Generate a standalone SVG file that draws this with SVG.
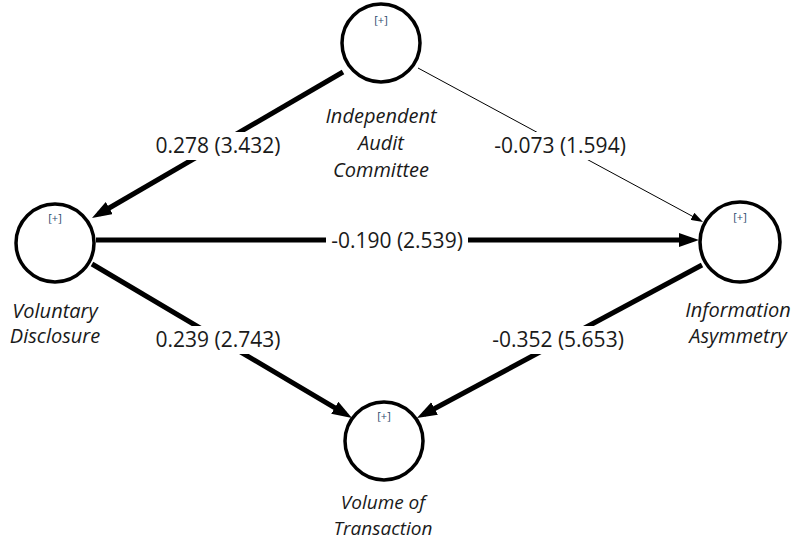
<svg xmlns="http://www.w3.org/2000/svg" width="794" height="541" viewBox="0 0 794 541">
<style>
.node{fill:#fff;stroke:#000;stroke-width:3.5}
.plus{font-family:"Open Sans","Noto Sans",sans-serif;font-size:11px;fill:#2e4a6e;text-anchor:middle}
.name{font-family:"Open Sans","Noto Sans",sans-serif;font-style:italic;font-size:20px;fill:#1a1a1a;text-anchor:middle}
.lbl{font-family:"Open Sans","Noto Sans",sans-serif;font-size:21px;fill:#1a1a1a;text-anchor:middle}
.thick{stroke:#000;stroke-width:5;fill:none}
.thin{stroke:#000;stroke-width:1;fill:none}
.bg{fill:#fff}
</style>
<defs>
<marker id="ah" markerUnits="userSpaceOnUse" markerWidth="20" markerHeight="16" refX="12" refY="7" orient="auto">
<path d="M0,0 L20,7 L0,14 z" fill="#000"/>
</marker>
<marker id="ahs" markerUnits="userSpaceOnUse" markerWidth="12" markerHeight="8" refX="8" refY="4" orient="auto">
<path d="M0,0 L12,4 L0,8 z" fill="#000"/>
</marker>
</defs>
<g id="connectors">
<line class="thick" x1="343" y1="72" x2="98.9" y2="214" marker-end="url(#ah)"/>
<line class="thin" x1="418" y1="68" x2="699.5" y2="220.1" marker-end="url(#ahs)"/>
<line class="thick" x1="96" y1="240" x2="691" y2="240" marker-end="url(#ah)"/>
<line class="thick" x1="92" y1="264" x2="345.1" y2="413.9" marker-end="url(#ah)"/>
<line class="thick" x1="702" y1="265" x2="424" y2="414.2" marker-end="url(#ah)"/>
<rect class="bg" x="150" y="132" width="136" height="28"/>
<text class="lbl" x="218" y="153">0.278 (3.432)</text>
<rect class="bg" x="487" y="132" width="146" height="28"/>
<text class="lbl" x="560" y="153">-0.073 (1.594)</text>
<rect class="bg" x="326" y="227" width="142" height="28"/>
<text class="lbl" x="397" y="248">-0.190 (2.539)</text>
<rect class="bg" x="150" y="326" width="136" height="28"/>
<text class="lbl" x="218" y="347">0.239 (2.743)</text>
<rect class="bg" x="485" y="326" width="146" height="28"/>
<text class="lbl" x="558" y="347">-0.352 (5.653)</text>
</g>
<g id="iac">
<circle class="node" cx="381" cy="43" r="39"/>
<text class="plus" x="381" y="24">[+]</text>
<text class="name" x="381" y="123">Independent</text>
<text class="name" x="381" y="150">Audit</text>
<text class="name" x="381" y="177">Committee</text>
</g>
<g id="vd">
<circle class="node" cx="55" cy="243" r="39"/>
<text class="plus" x="55" y="222">[+]</text>
<text class="name" x="55" y="318">Voluntary</text>
<text class="name" x="55" y="343">Disclosure</text>
</g>
<g id="ia">
<circle class="node" cx="740" cy="242" r="40"/>
<text class="plus" x="740" y="221">[+]</text>
<text class="name" x="738" y="317">Information</text>
<text class="name" x="738" y="343">Asymmetry</text>
</g>
<g id="vt">
<circle class="node" cx="384" cy="441" r="39"/>
<text class="plus" x="384" y="420">[+]</text>
<text class="name" x="383" y="509" style="font-size:19px">Volume of</text>
<text class="name" x="383" y="535" style="font-size:19px">Transaction</text>
</g>
</svg>
